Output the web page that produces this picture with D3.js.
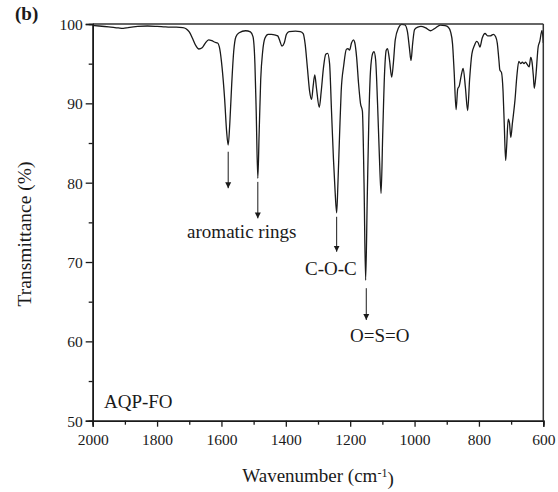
<!DOCTYPE html>
<html>
<head>
<meta charset="utf-8">
<script src="https://cdn.jsdelivr.net/npm/d3@7"></script>
<style>
  html, body { margin: 0; padding: 0; background: #fff; }
  svg { display: block; }
  text { font-family: "Liberation Serif", "Times New Roman", serif; fill: #1a1a1a; }
</style>
</head>
<body>
<svg id="chart" width="558" height="492"></svg>
<script>
// FTIR spectrum of AQP-FO, wavenumber (cm-1) vs transmittance (%)
const wavenumber = [
  2000, 1980, 1950, 1920, 1905, 1890, 1860, 1830, 1800, 1780, 1760, 1740, 1720, 1710,
  1700, 1690, 1680, 1670, 1660, 1650, 1640, 1630, 1620, 1612, 1605, 1598, 1590, 1584,
  1579, 1574, 1568, 1562, 1555, 1545, 1525, 1510, 1502, 1496, 1492, 1487, 1483, 1478,
  1472, 1465, 1455, 1445, 1432, 1425, 1418, 1412, 1405, 1398, 1390, 1370, 1355, 1346,
  1340, 1333, 1326, 1320, 1315, 1310, 1305, 1296, 1290, 1283, 1276, 1270, 1264, 1258,
  1252, 1247, 1242, 1238, 1233, 1228, 1220, 1212, 1207, 1202, 1196, 1190, 1186, 1180,
  1174, 1168, 1162, 1157, 1152, 1147, 1142, 1137, 1130, 1126, 1121, 1115, 1109, 1104,
  1099, 1093, 1088, 1084, 1078, 1071, 1066, 1060, 1050, 1040, 1030, 1022, 1016, 1011,
  1006, 1000, 990, 980, 965, 950, 935, 920, 905, 895, 888, 882, 877, 871,
  866, 861, 855, 849, 842, 835, 829, 822, 814, 807, 802, 797, 790, 781,
  773, 765, 755, 748, 743, 738, 735, 730, 725, 721, 717, 714, 709, 705,
  701, 696, 688, 682, 676, 670, 665, 660, 655, 650, 644, 639, 635, 631,
  628, 623, 616, 611, 604, 600
];
const transmittance = [
  99.8, 99.75, 99.65, 99.5, 99.45, 99.55, 99.7, 99.75, 99.7, 99.65, 99.6, 99.6, 99.55, 99.4,
  99.0, 98.2, 97.3, 96.85, 97.0, 97.6, 98.0, 97.9, 97.7, 97.6, 96.8, 94.5, 90.5, 86.5,
  84.75, 87.5, 92.5, 96.5, 98.4, 98.9, 99.15, 99.0, 98.4, 95.0, 89.0, 80.55, 86.0, 93.0,
  96.5, 98.2, 98.7, 98.7, 98.6, 98.5, 97.8, 97.2, 97.6, 98.7, 99.05, 99.1, 99.05, 98.8,
  97.5, 94.5, 91.5, 90.5, 92.2, 93.6, 92.0, 89.5, 91.5, 94.5, 96.2, 96.3, 95.0, 89.0,
  83.0, 79.0, 76.2, 80.0, 86.0, 91.5, 94.8, 96.8, 96.9, 96.7, 97.6, 98.0, 97.7, 95.8,
  92.5, 90.0, 89.0, 80.0, 67.7, 78.0, 88.0, 94.0, 96.3, 96.5, 95.5, 90.0, 83.0, 78.65,
  86.0, 94.0, 96.7, 96.9, 95.5, 93.3, 95.0, 98.0, 99.5, 99.95, 99.9, 99.0, 97.0, 95.4,
  97.5, 99.3, 99.6, 99.7, 99.5, 99.15, 99.5, 99.85, 99.8, 99.6, 99.0, 97.5, 94.0, 89.2,
  91.8, 92.2, 93.5, 94.4, 92.0, 89.1, 93.0, 96.2, 97.3, 97.8, 97.6, 97.1, 98.2, 98.8,
  98.5, 98.5, 98.7, 98.4, 97.6, 95.5, 94.2, 93.9, 91.5, 87.0, 82.8, 84.5, 88.0, 87.5,
  85.7, 87.5, 90.4, 93.5, 95.3, 95.0, 95.2, 95.0, 95.2, 94.9, 94.6, 95.8, 95.2, 93.5,
  91.9, 93.5, 97.1, 97.8, 99.2, 97.6
];

const xTicks = [2000, 1800, 1600, 1400, 1200, 1000, 800, 600];
const yTicks = [50, 60, 70, 80, 90, 100];

// Band assignments: arrow start/end transmittance at the band position
const bandLabels = ["aromatic rings", "C-O-C", "O=S=O"];
const arrowWavenumber = [1579, 1487, 1242, 1150];
const arrowFrom = [83.9, 80.1, 75.7, 66.7];
const arrowTo = [79.3, 75.5, 71.3, 62.7];
const labelWavenumber = [1537, 1260, 1108];
const labelT = [73.0, 68.4, 59.95];
const sampleName = "AQP-FO";
const panelTag = "(b)";

const svg = d3.select("#chart");
const margin = { left: 92.7, right: 558 - 543.3, top: 24, bottom: 492 - 420.7 };
const W = 558, H = 492;

const x = d3.scaleLinear().domain([2000, 600]).range([margin.left, W - margin.right]);
const y = d3.scaleLinear().domain([50, 100]).range([H - margin.bottom, margin.top]);

const ink = "#1a1a1a";

// arrowhead marker
svg.append("defs").append("marker")
  .attr("id", "head")
  .attr("viewBox", "0 0 10 10")
  .attr("refX", 10).attr("refY", 5)
  .attr("markerUnits", "userSpaceOnUse")
  .attr("markerWidth", 6).attr("markerHeight", 9)
  .attr("orient", "auto")
  .append("path").attr("d", "M0,0 L10,5 L0,10 Z").attr("fill", ink);

svg.append("clipPath").attr("id", "plotclip")
  .append("rect")
  .attr("x", x(2000)).attr("y", y(100) - 1)
  .attr("width", x(600) - x(2000)).attr("height", y(50) - y(100) + 1);

// spectrum
const pts = wavenumber.map((w, i) => [w, transmittance[i]]);
const line = d3.line()
  .x(d => x(d[0]))
  .y(d => y(d[1]))
  .curve(d3.curveMonotoneX);
svg.append("path")
  .datum(pts)
  .attr("clip-path", "url(#plotclip)")
  .attr("d", line)
  .attr("fill", "none")
  .attr("stroke", ink)
  .attr("stroke-width", 1.3)
  .attr("stroke-linejoin", "round");

// frame (top and right)
svg.append("line")
  .attr("x1", x(2000)).attr("x2", x(600)).attr("y1", y(100)).attr("y2", y(100))
  .attr("stroke", "#333").attr("stroke-width", 1.5);
svg.append("line")
  .attr("x1", x(600)).attr("x2", x(600)).attr("y1", y(100)).attr("y2", y(50))
  .attr("stroke", "#333").attr("stroke-width", 1.5);

// x axis
const xAxis = svg.append("g")
  .attr("transform", `translate(0,${y(50)})`)
  .call(d3.axisBottom(x).tickValues(xTicks).tickSize(6).tickPadding(4).tickFormat(d3.format("d")));
const xMinor = svg.append("g")
  .attr("transform", `translate(0,${y(50)})`)
  .call(d3.axisBottom(x).tickValues(d3.range(1900, 600, -200)).tickSize(4).tickFormat(""));

// y axis
const yAxis = svg.append("g")
  .attr("transform", `translate(${x(2000)},0)`)
  .call(d3.axisLeft(y).tickValues(yTicks).tickSize(7).tickPadding(3));
const yMinor = svg.append("g")
  .attr("transform", `translate(${x(2000)},0)`)
  .call(d3.axisLeft(y).tickValues([55, 65, 75, 85, 95]).tickSize(4).tickFormat(""));

[xAxis, xMinor, yAxis, yMinor].forEach(g => {
  g.select(".domain").attr("stroke", ink).attr("stroke-width", 1.5);
  g.selectAll(".tick line").attr("stroke", ink).attr("stroke-width", 1.3);
  g.selectAll("text")
    .style("font-family", "'Liberation Serif', 'Times New Roman', serif")
    .style("font-size", "15.5px")
    .attr("fill", ink);
});
xAxis.selectAll("text").attr("dy", "0.9em");
yAxis.selectAll("text").attr("dy", "0.36em");

// axis titles
const xt = svg.append("text")
  .attr("x", (x(2000) + x(600)) / 2 + 0)
  .attr("y", 482)
  .attr("text-anchor", "middle")
  .style("font-size", "19px");
xt.append("tspan").text("Wavenumber (cm");
xt.append("tspan").attr("dy", "-0.45em").style("font-size", "12px").text("-1");
xt.append("tspan").attr("dy", "0.45em").text(")");

svg.append("text")
  .attr("transform", `translate(31,234) rotate(-90)`)
  .attr("text-anchor", "middle")
  .style("font-size", "19.5px")
  .text("Transmittance (%)");

// panel tag
svg.append("text")
  .attr("x", 15).attr("y", 20)
  .style("font-size", "19px").style("font-weight", "bold")
  .text(panelTag);

// sample name
svg.append("text")
  .attr("x", x(1965)).attr("y", y(51.55))
  .style("font-size", "19px")
  .text(sampleName);

// arrows
arrowWavenumber.forEach((w, i) => {
  svg.append("line")
    .attr("x1", x(w)).attr("x2", x(w))
    .attr("y1", y(arrowFrom[i])).attr("y2", y(arrowTo[i]))
    .attr("stroke", ink).attr("stroke-width", 1)
    .attr("marker-end", "url(#head)");
});

// band labels
bandLabels.forEach((t, i) => {
  svg.append("text")
    .attr("x", x(labelWavenumber[i])).attr("y", y(labelT[i]))
    .attr("text-anchor", "middle")
    .style("font-size", "19px")
    .text(t);
});
</script>
</body>
</html>
